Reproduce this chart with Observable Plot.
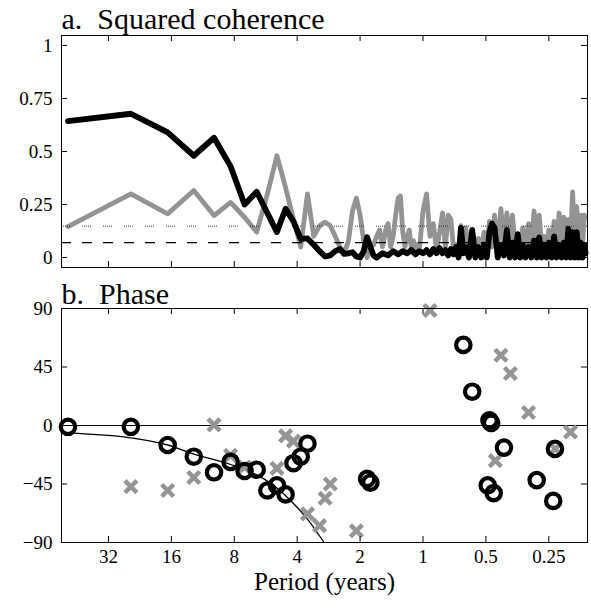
<!DOCTYPE html>
<html>
<head>
<meta charset="utf-8">
<script src="https://cdn.jsdelivr.net/npm/d3@7"></script>
<script src="https://cdn.jsdelivr.net/npm/@observablehq/plot@0.6"></script>
<style>
  body { margin: 0; background: #fff; }
  #chart { width: 591px; height: 609px; }
  #chart svg { display: block; }
  #chart svg, #chart svg text { font-family: "Liberation Serif", "DejaVu Serif", "Noto Serif", serif !important; }
</style>
</head>
<body>
<div id="chart"></div>
<script>
// ---------- DATA ----------
// Spectral estimates are at harmonics k of a 50-year record: period = 50 / k years.
const RECORD_YEARS = 50;

// Squared coherence, grey series: [harmonic k, coherence]
const greyCoherence = [
  [1,0.146],[2,0.30],[3,0.206],[4,0.316],[5,0.198],[6,0.26],[7,0.19],[8,0.12],[9,0.30],[10,0.48],
  [11,0.33],[12,0.18],[13,0.05],[14,0.30],[15,0.10],[16,0.15],[17,0.167],[18,0.15],[19,0.10],[20,0.05],
  [21,0.02],[22,0.08],[23,0.22],[24,0.28],[25,0.20],[26,0.08],[27,0.0],[28,0.05],[29,0.06],[30,0.10],[31,0.13],
  [32,0.05],[33,0.12],[34,0.16],[35,0.05],[36,0.10],[37,0.20],[38,0.28],[39,0.29],[40,0.12],[41,0.05],
  [42,0.10],[43,0.13],[44,0.04],[45,0.08],[46,0.03],[47,0.06],[48,0.03],
  [50,0.22],[52,0.30],[54,0.10],[56,0.16],[58,0.04],[60,0.12],[62,0.21],[64,0.05],[66,0.20],[68,0.18],
  [70,0.04],[72,0.06],[74,0.03],[76,0.15],[78,0.04],[80,0.14],
  [83,0.04],[86,0.13],[89,0.04],[92,0.09],[95,0.04],[98,0.12],[101,0.04],[104,0.17],[107,0.05],[110,0.20],
  [114,0.05],[118,0.23],[122,0.06],[126,0.21],[130,0.06],[134,0.20],[138,0.05],[142,0.11],[146,0.04],
  [150,0.14],[155,0.05],[160,0.16],[165,0.05],[170,0.22],[175,0.06],[180,0.20],[185,0.05],[190,0.10],[195,0.04],[200,0.13],
  [206,0.05],[212,0.17],[218,0.05],[224,0.21],[230,0.06],[236,0.19],[242,0.05],[248,0.18],[254,0.06],[260,0.31],
  [266,0.08],[272,0.24],[278,0.06],[284,0.20],[290,0.05],[296,0.20],[300,0.19]
];

// Squared coherence, black series: [harmonic k, coherence]
const blackCoherence = [
  [1,0.643],[2,0.678],[3,0.59],[4,0.48],[5,0.565],[6,0.43],[7,0.25],[8,0.31],[9,0.21],[10,0.12],
  [11,0.23],[12,0.17],[13,0.088],[14,0.09],[15,0.06],[16,0.03],[17,0.005],[18,0.01],[19,0.03],[20,0.04],
  [21,0.017],[22,0.02],[23,0.025],[24,0.005],[25,0.0],[26,0.03],[27,0.096],[28,0.05],[29,0.01],[30,0.0],[31,0.01],
  [32,0.02],[34,0.01],[36,0.03],[38,0.015],[40,0.03],[42,0.02],[44,0.035],[46,0.015],[48,0.03],[50,0.02],
  [52,0.035],[54,0.015],[56,0.04],[58,0.02],[60,0.045],[62,0.02],[64,0.035],[66,0.01],[68,0.04],[70,0.015],
  [72,0.05],[74,0.0],[76,0.14],[78,0.02],[80,0.05],[83,0.0],[86,0.13],[89,0.0],[92,0.05],[95,0.0],
  [98,0.06],[101,0.0],[104,0.12],[107,0.16],[110,0.14],[114,0.0],[118,0.06],[122,0.01],[126,0.13],[130,0.0],
  [134,0.07],[138,0.0],[142,0.11],[146,0.0],[150,0.06],[155,0.0],[160,0.05],[165,0.0],[170,0.08],[175,0.0],
  [180,0.095],[185,0.0],[190,0.06],[195,0.0],[200,0.07],[206,0.0],[212,0.10],[218,0.0],[224,0.06],[230,0.0],
  [236,0.07],[242,0.0],[248,0.135],[254,0.0],[260,0.12],[266,0.0],[272,0.12],[278,0.0],[284,0.07],[290,0.0],
  [296,0.06],[300,0.02]
];

// Significance levels (horizontal reference lines)
const greyThreshold = [0.148];   // dotted
const blackThreshold = [0.07];   // dashed

// Phase (degrees): black circles [harmonic k, phase]
const blackPhase = [
  [1,-1],[2,-1],[3,-15],[4,-24],[5,-36],[6,-28],[7,-35],[8,-34],[9,-50],[10,-46],[11,-53],
  [12,-29],[13,-24],[14,-14],[27,-41],[28,-44],[78,62],[86,26],[102,-46],[104,4],[106,2],
  [109,-52],[122,-17],[175,-42],[210,-58],[214,-18]
];
// Phase (degrees): grey crosses [harmonic k, phase]
const greyPhase = [
  [2,-47],[3,-50],[4,-40],[5,0.5],[6,-23],[7,-32],[10,-33],[11,-8],[12,-12],[14,-68],[16,-77],
  [17,-56],[18,-45],[24,-81],[54,88.5],[111,-27],[118,54],[131,40],[160,10],[215,-18],[254,-5]
];
// Thin model phase curve: [harmonic k, phase]
const phaseModel = [
  [0.93,-5],[1,-5.5],[2,-9.5],[3,-15],[4,-22],[6,-30],[8,-38],[10,-48],[12,-60],[14,-72],[16,-85],[16.8,-90]
];

// Axis ticks and labels
const periodTicks = [32,16,8,4,2,1,0.5,0.25];
const periodTickLabels = ["32","16","8","4","2","1","0.5","0.25"];
const cohTicks = [0,0.25,0.5,0.75,1];
const cohTickLabels = ["0","0.25","0.5","0.75","1"];
const phaseTicks = [-90,-45,0,45,90];
const phaseTickLabels = ["\u221290","\u221245","0","45","90"];

const titleA = "a.\u00a0 Squared coherence";
const titleB = "b.\u00a0 Phase";
const xLabel = "Period (years)";

// ---------- CHART ----------
const period = d => RECORD_YEARS / d[0];
const val = d => d[1];
const xDomain = [53.7, 0.1632];
const FONT = "Liberation Serif";

const W = 591, ML = 61, MR = 4;
const FW = W - ML - MR;
const TICK = 6;

function frameTicks(yTicks, frameH) {
  return [
    Plot.tickY(yTicks, {y: d => d, insetRight: FW - TICK, stroke: "black"}),
    Plot.tickY(yTicks, {y: d => d, insetLeft: FW - TICK, stroke: "black"}),
    Plot.tickX(periodTicks, {x: d => d, insetTop: frameH - TICK, stroke: "black"}),
    Plot.tickX(periodTicks, {x: d => d, insetBottom: frameH - TICK, stroke: "black"})
  ];
}
function yLabels(ticks, labels) {
  return Plot.text(ticks, {y: d => d, text: (d, i) => labels[i], frameAnchor: "left",
    textAnchor: "end", dx: -9, fontSize: 19, fontFamily: FONT, fill: "black"});
}

const hA = 275, mtA = 35, mbA = 8;
const chartA = Plot.plot({
  width: W, height: hA, marginLeft: ML, marginRight: MR, marginTop: mtA, marginBottom: mbA,
  style: {fontFamily: FONT, fontSize: "19px", background: "white", color: "black", overflow: "visible"},
  x: {type: "log", domain: xDomain, axis: null},
  y: {domain: [-0.047, 1.047], axis: null},
  marks: [
    Plot.line(greyCoherence, {x: period, y: val, stroke: "#939393", strokeWidth: 4.8, strokeLinejoin: "round"}),
    Plot.ruleY(greyThreshold, {stroke: "#333", strokeWidth: 1, strokeDasharray: "1,1,1,1,1,1,1,1,1,12"}),
    Plot.ruleY(blackThreshold, {stroke: "black", strokeWidth: 1.3, strokeDasharray: "10,11"}),
    Plot.line(blackCoherence, {x: period, y: val, stroke: "black", strokeWidth: 5.8, strokeLinejoin: "round"}),
    Plot.frame({stroke: "black"}),
    ...frameTicks(cohTicks, hA - mtA - mbA),
    yLabels(cohTicks, cohTickLabels),
    Plot.text([titleA], {frameAnchor: "top-left", textAnchor: "start", lineAnchor: "bottom", dy: -7,
      fontSize: 30, fontFamily: FONT, fill: "black"})
  ]
});

const hB = 334, mtB = 33, mbB = 67;
const chartB = Plot.plot({
  width: W, height: hB, marginLeft: ML, marginRight: MR, marginTop: mtB, marginBottom: mbB,
  style: {fontFamily: FONT, fontSize: "19px", background: "white", color: "black", overflow: "visible"},
  x: {type: "log", domain: xDomain, axis: null},
  y: {domain: [-90, 90], axis: null},
  marks: [
    Plot.ruleY([0], {stroke: "black", strokeWidth: 1}),
    Plot.line(phaseModel, {x: period, y: val, stroke: "black", strokeWidth: 1.3, curve: "monotone-x"}),
    Plot.dot(greyPhase, {x: period, y: val, symbol: "times", r: 5.5, stroke: "#959595", strokeWidth: 4.5}),
    Plot.dot(blackPhase, {x: period, y: val, symbol: "circle", r: 7.2, stroke: "black", strokeWidth: 4.2, fill: "none"}),
    Plot.frame({stroke: "black"}),
    ...frameTicks(phaseTicks, hB - mtB - mbB),
    yLabels(phaseTicks, phaseTickLabels),
    Plot.text(periodTicks, {x: d => d, text: (d, i) => periodTickLabels[i], frameAnchor: "bottom",
      dy: 20, fontSize: 19, fontFamily: FONT, fill: "black"}),
    Plot.text([titleB], {frameAnchor: "top-left", textAnchor: "start", lineAnchor: "bottom", dy: -5,
      fontSize: 30, fontFamily: FONT, fill: "black"}),
    Plot.text([xLabel], {frameAnchor: "bottom", dy: 47, fontSize: 25, fontFamily: FONT, fill: "black"})
  ]
});

const root = document.getElementById("chart");
root.appendChild(chartA);
root.appendChild(chartB);
</script>
</body>
</html>
